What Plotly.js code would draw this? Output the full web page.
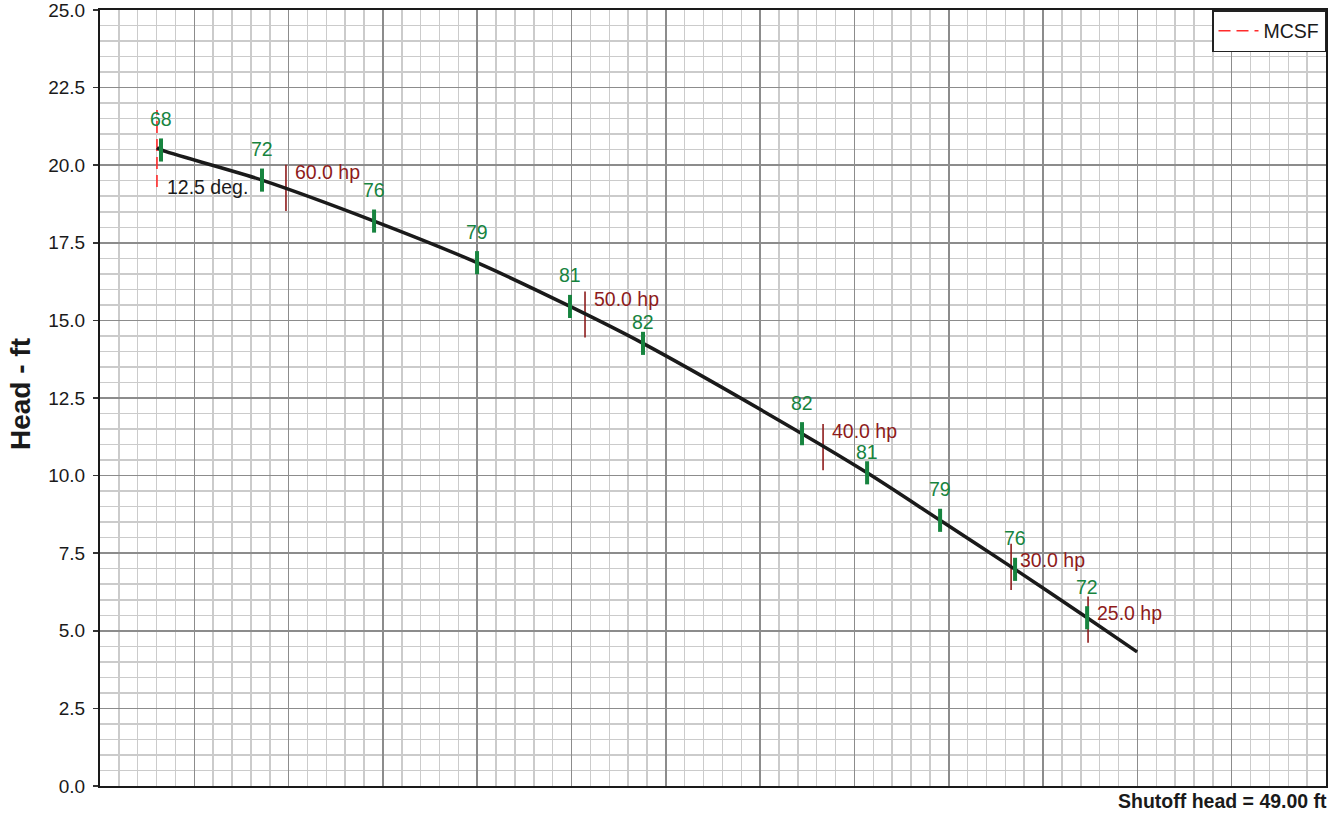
<!DOCTYPE html>
<html>
<head>
<meta charset="utf-8">
<script src="https://cdn.plot.ly/plotly-3.0.1.min.js"></script>
<style>html,body{margin:0;padding:0;background:#fff;}#chart{width:1336px;height:814px;}</style>
</head>
<body>
<div id="chart"></div>
<script>
// Pump curve (flow in arbitrary grid units, head in ft)
const curveFlow = [60.4, 64.7, 171.8, 290.6, 399.8, 498.4, 575.8, 744.4, 813.4, 890.8, 970.3, 1046.7, 1099.7];
const curveHead = [20.56, 20.49, 19.52, 18.20, 16.86, 15.45, 14.26, 11.35, 10.09, 8.56, 6.98, 5.42, 4.32];

// Efficiency marks
const effFlow  = [64.7, 171.8, 290.6, 399.8, 498.4, 575.8, 744.4, 813.4, 890.8, 970.3, 1046.7];
const effHead  = [20.49, 19.52, 18.20, 16.86, 15.45, 14.26, 11.35, 10.09, 8.56, 6.98, 5.42];
const effLabel = ["68", "72", "76", "79", "81", "82", "82", "81", "79", "76", "72"];

// Horsepower marks
const hpFlow  = [197.2, 514.3, 766.7, 966.1, 1047.7];
const hpHead  = [19.27, 15.19, 10.92, 7.06, 5.36];
const hpLabel = ["60.0 hp", "50.0 hp", "40.0 hp", "30.0 hp", "25.0 hp"];

// MCSF line
const mcsfFlow = [60.4, 60.4];
const mcsfHead = [19.30, 21.78];

// Trim angle note
const trimFlow = [72.1];
const trimHead = [19.30];
const trimLabel = ["12.5 deg."];

const yTickVals = [0, 2.5, 5, 7.5, 10, 12.5, 15, 17.5, 20, 22.5, 25];
const yTickText = ["0.0", "2.5", "5.0", "7.5", "10.0", "12.5", "15.0", "17.5", "20.0", "22.5", "25.0"];

const FONT = '"Liberation Sans", Arial, Helvetica, sans-serif';
const GREEN = '#17843f';
const DRED = '#8e1b1b';
const RED = '#ff2b2b';

const X_RANGE = [0, 1300];
const PLOT_W = 1336 - 100 - 10;
const pxPerX = PLOT_W / (X_RANGE[1] - X_RANGE[0]);

const traces = [
  {
    x: hpFlow, y: hpHead, type: 'scatter', mode: 'markers', showlegend: false, hoverinfo: 'skip',
    marker: {symbol: 'line-ns', size: 33, line: {width: 1.6, color: DRED}, color: DRED}
  },
  {
    x: mcsfFlow, y: mcsfHead, type: 'scatter', mode: 'lines', name: 'MCSF', showlegend: true,
    line: {color: RED, width: 1.6, dash: '12px,6px'}
  },
  {
    x: curveFlow, y: curveHead, type: 'scatter', mode: 'lines', showlegend: false, hoverinfo: 'skip',
    line: {color: '#1a1a1a', width: 3.5, shape: 'spline', smoothing: 0.9}
  },
  {
    x: effFlow, y: effHead, type: 'scatter', mode: 'markers', showlegend: false, hoverinfo: 'skip',
    marker: {symbol: 'line-ns', size: 16.5, line: {width: 4, color: GREEN}, color: GREEN}
  }
];

const annotations = [];
effFlow.forEach((f, i) => {
  // drop the label a little when an hp label sits just above-left of it
  let ys = 31;
  hpFlow.forEach(h => { const dx = (f - h) * pxPerX; if (dx > 10 && dx < 75) ys = 21; });
  annotations.push({x: f, y: effHead[i], xref: 'x', yref: 'y', text: effLabel[i], showarrow: false,
    yshift: ys, xanchor: 'center', yanchor: 'middle', font: {family: FONT, size: 19.5, color: GREEN}});
});
hpFlow.forEach((f, i) => {
  // hp label sits lower when an efficiency mark is right at the same flow
  let ys = 16;
  effFlow.forEach(e => { if (Math.abs((e - f) * pxPerX) < 12) ys = 7; });
  annotations.push({x: f, y: hpHead[i], xref: 'x', yref: 'y', text: hpLabel[i], showarrow: false,
    xshift: 7, yshift: ys, xanchor: 'left', yanchor: 'middle', font: {family: FONT, size: 19.5, color: DRED}});
});
trimFlow.forEach((f, i) => {
  annotations.push({x: f, y: trimHead[i], xref: 'x', yref: 'y', text: trimLabel[i], showarrow: false,
    xshift: -3, xanchor: 'left', yanchor: 'middle', font: {family: FONT, size: 19.5, color: '#1a1a1a'}});
});
annotations.push({x: 1, y: 0, xref: 'paper', yref: 'paper', text: '<b>Shutoff head = 49.00 ft</b>', showarrow: false,
  xanchor: 'right', yanchor: 'top', yshift: -2, xshift: 3, font: {family: FONT, size: 19.5, color: '#1a1a1a'}});
annotations.push({x: 0, y: 0.5, xref: 'paper', yref: 'paper', text: '<b>Head - ft</b>', showarrow: false,
  xanchor: 'center', yanchor: 'middle', xshift: -80, yshift: 4, textangle: -90, font: {family: FONT, size: 28, color: '#1a1a1a'}});

const layout = {
  width: 1336, height: 814,
  margin: {l: 100, r: 10, t: 10, b: 28, pad: 0},
  paper_bgcolor: '#fff', plot_bgcolor: '#fff',
  font: {family: FONT, color: '#1a1a1a'},
  showlegend: true,
  legend: {x: 1, y: 1, xanchor: 'right', yanchor: 'top', bgcolor: '#fff', bordercolor: '#222', borderwidth: 1.5,
    itemwidth: 40, font: {family: FONT, size: 19.5, color: '#1a1a1a'}},
  xaxis: {
    range: X_RANGE, tick0: 0, dtick: 100, showticklabels: false, ticks: '',
    showgrid: true, gridcolor: '#8c8c8c', gridwidth: 1.5, zeroline: false,
    showline: true, linecolor: '#1a1a1a', linewidth: 2, mirror: true,
    minor: {tick0: 0, dtick: 20, showgrid: true, gridcolor: '#cbcbcb', gridwidth: 1.5, ticks: ''}
  },
  yaxis: {
    range: [0, 25], tickmode: 'array', tickvals: yTickVals, ticktext: yTickText,
    ticks: 'outside', ticklen: 5, tickwidth: 1.5, tickcolor: '#333', ticklabelstandoff: 4,
    ticklabeloverflow: 'allow',
    tickfont: {family: FONT, size: 19, color: '#1a1a1a'},
    showgrid: true, gridcolor: '#8c8c8c', gridwidth: 1.5, zeroline: false,
    showline: true, linecolor: '#1a1a1a', linewidth: 2, mirror: true,
    minor: {tick0: 0, dtick: 0.5, showgrid: true, gridcolor: '#cbcbcb', gridwidth: 1.5, ticks: ''}
  },
  annotations: annotations
};

Plotly.newPlot('chart', traces, layout, {displayModeBar: false, staticPlot: true});
</script>
</body>
</html>
